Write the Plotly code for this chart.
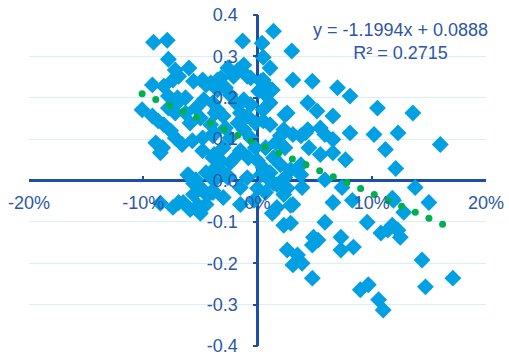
import numpy as np
import plotly.graph_objects as go

# ---- data (x in percent, y as value) ----
x_pct = [
    -9.1, -7.9, 1.4, -1.3, 0.4, 3.0, -7.8, 0.5, -7.2, -6.0,
    -2.6, -1.7, -1.2, 1.1, -7.4, -6.9, -5.6, -4.8, -3.5, -3.2,
    -2.1, -0.9, -0.6, 0.5, 3.1, 4.8, 7.0, 8.1, -9.2, -8.2,
    0.3, 1.0, 0.1, 1.3, -4.1, -3.5, -7.8, -7.0, -6.3, -4.5,
    -4.7, -3.9, -3.7, -2.4, -1.2, -0.6, 0.7, 1.1, 0.5, 2.6,
    4.4, 5.2, 6.6, 10.5, 13.6, 2.4, -10.1, -9.2, -8.7, -7.8,
    -7.0, -7.2, -1.5, -0.9, -3.5, -3.0, -8.2, -7.6, -8.9, -8.3,
    -8.5, -7.2, -6.6, -5.7, -4.8, -3.9, -4.8, -3.9, -3.5, -1.5,
    -4.1, -3.8, -1.7, -1.2, 0.5, 1.1, 2.3, 3.1, 3.8, 2.0,
    4.4, 5.5, 5.9, 4.2, 6.6, 4.5, 5.5, 6.6, 7.7, 8.1,
    10.2, 12.3, 16.0, 11.2, 12.1, 3.8, -3.0, -3.8, -3.2, -1.7,
    -0.8, 0.0, 0.5, 1.4, 2.0, 2.9, 3.8, -0.9, 0.3, 1.1,
    1.7, -3.2, -2.6, -3.8, 2.3, 3.1, 1.7, -1.5, -0.3, -3.9,
    -3.0, -6.1, -5.4, -4.5, -3.9, -4.8, -5.6, -6.9, -7.4, -5.9,
    -4.5, -8.5, -5.0, -4.4, 5.9, 3.9, 7.4, 13.8, 15.0, 6.6,
    8.3, 11.9, 12.8, 2.6, 1.4, 0.0, 1.3, 2.9, 2.3, 2.9,
    5.9, 9.6, 10.8, 11.4, 11.8, 12.3, 12.5, 4.9, 5.3, 4.8,
    7.3, 7.3, 8.4, 2.6, 3.5, 3.9, 3.1, 4.8, 14.4, 14.7,
    17.1, 9.0, 9.7, 10.6, 11.0, -6.5, -5.2, -3.9, -5.6, -6.0,
    -2.6, 11.8, -2.8, -2.4, -0.6, -0.2, 0.7, 1.6, 2.4, -2.4,
    1.1, 2.4, -1.5, 0.7, -2.8, -1.9, -0.2, -5.0, -5.9, -5.4,
    -6.3,
]
y_val = [
    0.334, 0.339, 0.361, 0.337, 0.332, 0.313, 0.293, 0.298, 0.267, 0.272,
    0.272, 0.267, 0.279, 0.272, 0.243, 0.252, 0.240, 0.243, 0.243, 0.248,
    0.252, 0.252, 0.248, 0.243, 0.243, 0.240, 0.224, 0.204, 0.231, 0.228,
    0.240, 0.224, 0.216, 0.219, 0.236, 0.219, 0.204, 0.200, 0.200, 0.231,
    0.195, 0.188, 0.163, 0.207, 0.195, 0.183, 0.207, 0.188, 0.171, 0.163,
    0.188, 0.168, 0.156, 0.175, 0.163, 0.159, 0.171, 0.156, 0.144, 0.175,
    0.188, 0.163, 0.163, 0.156, 0.171, 0.156, 0.135, 0.120, 0.091, 0.079,
    0.067, 0.103, 0.087, 0.096, 0.103, 0.108, 0.072, 0.055, 0.050, 0.072,
    0.135, 0.115, 0.139, 0.123, 0.144, 0.135, 0.123, 0.111, 0.108, 0.108,
    0.123, 0.127, 0.111, 0.115, 0.099, 0.079, 0.063, 0.067, 0.050, 0.115,
    0.111, 0.115, 0.087, 0.075, 0.029, 0.038, 0.079, 0.063, 0.048, 0.063,
    0.055, 0.048, 0.031, 0.055, 0.038, 0.026, 0.014, 0.007, 0.014, 0.000,
    -0.010, 0.024, 0.007, 0.000, -0.034, -0.058, -0.065, -0.058, -0.048, -0.024,
    -0.041, 0.014, 0.002, 0.019, 0.024, -0.022, -0.034, -0.053, -0.065, -0.070,
    -0.058, -0.055, -0.079, -0.036, 0.002, -0.017, -0.017, -0.017, -0.053, -0.053,
    -0.048, -0.048, -0.077, -0.019, -0.007, -0.019, -0.079, -0.060, -0.108, -0.103,
    -0.101, -0.101, -0.127, -0.120, -0.108, -0.120, -0.137, -0.137, -0.144, -0.156,
    -0.137, -0.168, -0.161, -0.168, -0.180, -0.200, -0.204, -0.236, -0.192, -0.257,
    -0.236, -0.264, -0.252, -0.288, -0.313, -0.053, -0.060, -0.029, -0.007, 0.012,
    0.012, -0.043, 0.127, 0.103, 0.103, 0.079, 0.079, 0.091, 0.079, 0.043,
    0.019, 0.007, -0.017, -0.029, 0.224, 0.188, 0.139, 0.151, 0.139, 0.175,
    0.163,
]

# trendline (from the displayed regression equation)
slope = -1.1994
intercept = 0.0888
r_squared = 0.2715
trend_x_range = [-0.101, 0.162]
trend_dot_count = 23

x_tick_vals = [-0.2, -0.1, 0.0, 0.1, 0.2]
x_tick_text = ["-20%", "-10%", "0%", "10%", "20%"]
y_tick_vals = [-0.4, -0.3, -0.2, -0.1, 0.0, 0.1, 0.2, 0.3, 0.4]
y_tick_text = ["-0.4", "-0.3", "-0.2", "-0.1", "0.0", "0.1", "0.2", "0.3", "0.4"]

# ---- styling ----
AXIS_COLOR = "#1F4EA6"
TEXT_COLOR = "#2D56A8"
POINT_COLOR = "#00A0E3"
TREND_COLOR = "#00B050"
GRID_COLOR = "#D8EEF8"
FONT = "Liberation Sans, Arial, sans-serif"

x = np.array(x_pct) / 100.0
tx = np.linspace(trend_x_range[0], trend_x_range[1], trend_dot_count)
ty = slope * tx + intercept

fig = go.Figure()
fig.add_trace(go.Scatter(
    x=x, y=y_val, mode="markers",
    marker=dict(symbol="diamond", size=13, color=POINT_COLOR, line=dict(width=0)),
    showlegend=False, hoverinfo="skip",
))
fig.add_trace(go.Scatter(
    x=tx, y=ty, mode="markers",
    marker=dict(symbol="circle", size=7, color=TREND_COLOR, line=dict(width=0)),
    showlegend=False, hoverinfo="skip",
))

eq_text = f"y = {slope:.4f}x + {intercept:.4f}<br>R² = {r_squared:.4f}"
fig.add_annotation(
    text=eq_text, xref="paper", yref="paper", x=0.812, y=0.921,
    xanchor="center", yanchor="middle", showarrow=False, align="center",
    font=dict(family=FONT, size=18, color=TEXT_COLOR),
)

fig.update_layout(
    width=509, height=356,
    margin=dict(l=29, r=23, t=15, b=10),
    paper_bgcolor="white", plot_bgcolor="white",
    font=dict(family=FONT, size=18, color=TEXT_COLOR),
    xaxis=dict(
        range=[-0.2, 0.2], tickvals=x_tick_vals, ticktext=x_tick_text,
        showgrid=False, showline=False,
        zeroline=True, zerolinecolor=AXIS_COLOR, zerolinewidth=2.5,
        anchor="free", position=0.5, side="bottom",
        ticks="inside", ticklen=5, tickwidth=2, tickcolor=AXIS_COLOR,
        ticklabelstandoff=9, automargin=False, ticklabeloverflow="allow",
        tickfont=dict(family=FONT, size=18, color=TEXT_COLOR),
    ),
    yaxis=dict(
        range=[-0.4, 0.4], tickvals=y_tick_vals, ticktext=y_tick_text,
        showgrid=True, gridcolor=GRID_COLOR, gridwidth=1, showline=False,
        zeroline=True, zerolinecolor=AXIS_COLOR, zerolinewidth=2.5,
        anchor="free", position=0.5, side="left",
        ticks="outside", ticklen=5, tickwidth=2, tickcolor=AXIS_COLOR,
        ticklabelstandoff=11, automargin=False, ticklabeloverflow="allow",
        tickfont=dict(family=FONT, size=18, color=TEXT_COLOR),
    ),
)

fig.write_html(
    "out.html",
    config={"displayModeBar": False},
    post_script="document.body.style.margin='0';",
)
